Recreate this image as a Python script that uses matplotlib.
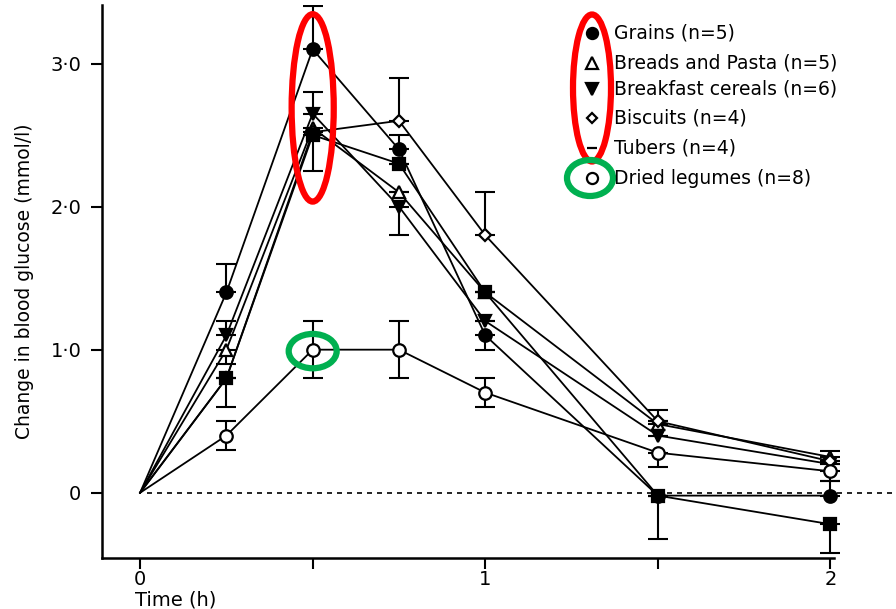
import matplotlib
matplotlib.use("Agg")
import matplotlib.pyplot as plt
from matplotlib.patches import Ellipse
from matplotlib.lines import Line2D

# tiempos (h) y cambios de glucosa (mmol/l)
tiempos = [0, 0.25, 0.5, 0.75, 1.0, 1.5, 2.0]

granos = [0, 1.4, 3.1, 2.4, 1.1, -0.02, -0.02]
panes = [0, 1.0, 2.55, 2.1, 1.4, 0.48, 0.25]
cereales = [0, 1.1, 2.65, 2.0, 1.2, 0.4, 0.2]
galletas = [0, 0.8, 2.52, 2.6, 1.8, 0.5, 0.22]
tuberculos = [0, 0.8, 2.5, 2.3, 1.4, -0.02, -0.22]
legumbres = [0, 0.4, 1.0, 1.0, 0.7, 0.28, 0.15]

# barras de error (abajo, arriba)
err_granos = ([0, 0, 0, 0, 0.1, 0, 0], [0, 0.2, 0.3, 0.1, 0, 0, 0.1])
err_panes = ([0, 0.1, 0.3, 0, 0, 0, 0], [0, 0, 0, 0, 0, 0.1, 0.04])
err_cereales = ([0, 0, 0, 0.2, 0, 0, 0], [0, 0.1, 0.15, 0, 0, 0, 0])
err_galletas = ([0, 0, 0, 0, 0, 0, 0], [0, 0, 0, 0.3, 0.3, 0, 0])
err_tuberculos = ([0, 0.2, 0, 0, 0, 0.3, 0.2], [0, 0, 0, 0, 0, 0, 0])
err_legumbres = ([0, 0.1, 0.2, 0.2, 0.1, 0.1, 0.07], [0, 0.1, 0.2, 0.2, 0.1, 0, 0])

etiquetas = ["Grains (n=5)", "Breads and Pasta (n=5)", "Breakfast cereals (n=6)",
             "Biscuits (n=4)", "Tubers (n=4)", "Dried legumes (n=8)"]

fig = plt.figure(figsize=(8.96, 6.09), dpi=100)
ax = fig.add_axes([0.114, 0.084, 0.886, 0.908])

series = [
    (granos, err_granos, "o", "black", 9),
    (panes, err_panes, "^", "white", 9),
    (cereales, err_cereales, "v", "black", 9),
    (galletas, err_galletas, "D", "white", 6),
    (tuberculos, err_tuberculos, "s", "black", 8),
    (legumbres, err_legumbres, "o", "white", 9),
]

for valores, err, marca, relleno, tam in series:
    ax.plot(tiempos, valores, color="black", lw=1.3, zorder=2)
    ax.errorbar(tiempos[1:], valores[1:], yerr=[err[0][1:], err[1][1:]],
                fmt="none", ecolor="black", elinewidth=1.5, capsize=7,
                capthick=1.5, zorder=2)
    ax.plot(tiempos[1:], valores[1:], linestyle="none", marker=marca,
            markersize=tam, markerfacecolor=relleno, markeredgecolor="black",
            markeredgewidth=1.6, zorder=3)

# linea de cero discontinua
ax.hlines(0, 0.02, 2.19, colors="black", linestyles=(0, (3, 3)), lw=1.2, zorder=1)

ax.set_xlim(-0.11, 2.19)
ax.set_ylim(-0.455, 3.41)
ax.set_xticks([0, 1, 2])
ax.set_xticklabels(["0", "1", "2"])
ax.set_xticks([0.5, 1.5], minor=True)
ax.set_yticks([0, 1, 2, 3])
ax.set_yticklabels(["0", "1·0", "2·0", "3·0"])
ax.tick_params(axis="both", which="both", direction="out", length=8, width=1.5,
               labelsize=14, color="black")
ax.tick_params(axis="y", pad=7)
ax.tick_params(axis="x", pad=1)
for lado in ["top", "right"]:
    ax.spines[lado].set_visible(False)
ax.spines["left"].set_linewidth(1.8)
ax.spines["bottom"].set_linewidth(1.8)
ax.spines["bottom"].set_bounds(-0.11, 2.01)

ax.set_ylabel("Change in blood glucose (mmol/l)", fontsize=13.5, labelpad=12)
fig.text(135 / 896, 1 - 600 / 609, "Time (h)", fontsize=14, ha="left", va="center")

# leyenda a mano
marcas_ley = [("o", "black", 8), ("^", "white", 8), ("v", "black", 9),
              ("D", "white", 5), ("_", "black", 7), ("o", "white", 8)]
filas_y = [33, 63, 89, 118, 148, 178]
for (marca, relleno, tam), texto, yp in zip(marcas_ley, etiquetas, filas_y):
    fy = 1 - yp / 609
    fig.add_artist(Line2D([592 / 896], [fy], marker=marca, markersize=tam,
                          markerfacecolor=relleno, markeredgecolor="black",
                          markeredgewidth=1.6, linestyle="none",
                          transform=fig.transFigure))
    fig.text(614 / 896, fy, texto, fontsize=13.5, ha="left", va="center")

# elipses de anotacion
ax.add_patch(Ellipse((0.5, 2.69), 0.122, 1.31, fill=False, ec="red", lw=4.5, zorder=5))
ax.add_patch(Ellipse((0.5, 0.99), 0.139, 0.24, fill=False, ec="#00b050", lw=4.5, zorder=5))
fig.add_artist(Ellipse((592 / 896, 1 - 88 / 609), 38 / 896, 147 / 609, fill=False,
                       ec="red", lw=4.5, transform=fig.transFigure))
fig.add_artist(Ellipse((590 / 896, 1 - 178 / 609), 46 / 896, 36 / 609, fill=False,
                       ec="#00b050", lw=4.5, transform=fig.transFigure))

fig.savefig("out.png", dpi=100)
